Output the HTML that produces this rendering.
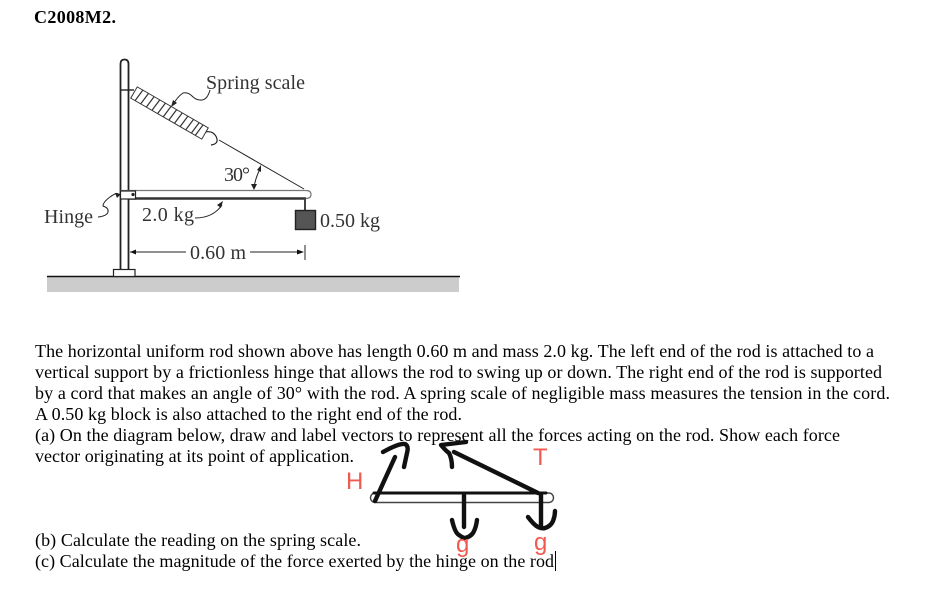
<!DOCTYPE html>
<html><head><meta charset="utf-8"><style>
html,body{margin:0;padding:0;background:#fff;width:952px;height:604px;overflow:hidden}
svg{display:block}
text{font-family:"Liberation Serif",serif;fill:#000}
.b{font-size:18px}
.d{font-size:20px;fill:#333}
.s{font-family:"Liberation Sans",sans-serif;fill:#f05a50;font-size:24px}
</style></head><body>
<svg width="952" height="604" viewBox="0 0 952 604" xmlns="http://www.w3.org/2000/svg">
<text x="34" y="23" style="font-size:18px;font-weight:bold" textLength="82">C2008M2.</text>
<!-- ground -->
<rect x="47" y="277" width="412" height="15" fill="#cccccc"/>
<line x1="47" y1="276.500" x2="460" y2="276.500" stroke="#111" stroke-width="1.5"/>
<!-- post -->
<path d="M120.500 270V64q0-4.500 4-4.500t4 4.500V270" fill="#fff" stroke="#222" stroke-width="1.8"/>
<rect x="113.500" y="269.500" width="21.500" height="7" fill="#fff" stroke="#222" stroke-width="1.2"/>
<!-- rod -->
<path d="M121 190.500H306q5 0 5 4t-5 4H121z" fill="#fff" stroke="#777" stroke-width="1.2"/>
<line x1="128" y1="198.500" x2="306" y2="198.500" stroke="#333" stroke-width="2.6"/>
<rect x="120.500" y="191" width="15" height="8" fill="#fff" stroke="#222" stroke-width="1.2"/>
<circle cx="133" cy="194.500" r="1.6" fill="#222"/>
<!-- cord -->
<line x1="121" y1="90" x2="134" y2="90" stroke="#222" stroke-width="1.4"/>
<path d="M205 132q5-1 8 1t4 6" fill="none" stroke="#222" stroke-width="1.2"/>
<path d="M217 139q1 5-6 6" fill="none" stroke="#222" stroke-width="1.2"/>
<line x1="219" y1="140" x2="304" y2="189" stroke="#222" stroke-width="1"/>
<!-- spring -->
<g transform="translate(134 92.500) rotate(30)">
<rect x="0" y="-6.500" width="82" height="13" fill="#fff" stroke="#333" stroke-width="1"/>
<path d="M6.500-6.500L5 6.500M13-6.500L11.500 6.500M19.500-6.500L18 6.500M26-6.500L24.500 6.500M32.500-6.500L31 6.500M39-6.500L37.500 6.500M45.500-6.500L44 6.500M52-6.500L50.500 6.500M58.500-6.500L57 6.500M65-6.500L63.500 6.500M71.500-6.500L70 6.500M76-6.500L74.500 6.500" stroke="#333" stroke-width="1.2"/>
</g>
<path d="M173 105q4-8 10-12q5-1 9 3t8 4q7 1 10-10" fill="none" stroke="#222" stroke-width="1"/>
<path d="M171 107l2-7 4 3z" fill="#222"/>
<text class="d" x="206" y="89" textLength="99">Spring scale</text>
<!-- 30 deg -->
<text class="d" x="224" y="181" textLength="26">30°</text>
<path d="M254 188q1-9 6-19" fill="none" stroke="#222" stroke-width="1"/>
<path d="M261 165l0 7-4-2z M254 190l-3-6 6 0z" fill="#222"/>
<!-- block -->
<line x1="305" y1="198" x2="305" y2="210" stroke="#444" stroke-width="2"/>
<rect x="295.500" y="210.500" width="20" height="19" fill="#555" stroke="#222" stroke-width="1.4"/>
<text class="d" x="320" y="227" textLength="60">0.50 kg</text>
<!-- labels -->
<text class="d" x="44" y="223" textLength="49">Hinge</text>
<path d="M98 217q9-1 10-5t-5-6q0-4 7-9t8-3" fill="none" stroke="#222" stroke-width="1"/>
<path d="M121 194l-6-1 2 5z" fill="#222"/>
<text class="d" x="142" y="221" textLength="52">2.0 kg</text>
<path d="M195 218q18 0 27-13" fill="none" stroke="#222" stroke-width="1"/>
<path d="M223 201l-2 7-4-3z" fill="#222"/>
<text class="d" x="190" y="259" textLength="56">0.60 m</text>
<line x1="130" y1="252" x2="186" y2="252" stroke="#222" stroke-width="1"/>
<path d="M130 252l6-2.500v5z" fill="#111"/>
<line x1="250" y1="252" x2="300" y2="252" stroke="#222" stroke-width="1"/>
<path d="M304 252l-7-2.500v5z" fill="#111"/>
<line x1="305" y1="245" x2="305" y2="260" stroke="#222" stroke-width="1"/>
<!-- paragraph -->
<text class="b" x="35" y="357" textLength="839">The horizontal uniform rod shown above has length 0.60 m and mass 2.0 kg. The left end of the rod is attached to a</text>
<text class="b" x="35" y="378" textLength="847">vertical support by a frictionless hinge that allows the rod to swing up or down. The right end of the rod is supported</text>
<text class="b" x="35" y="399" textLength="855">by a cord that makes an angle of 30° with the rod. A spring scale of negligible mass measures the tension in the cord.</text>
<text class="b" x="35" y="420" textLength="427">A 0.50 kg block is also attached to the right end of the rod.</text>
<text class="b" x="35" y="441" textLength="805">(a) On the diagram below, draw and label vectors to represent all the forces acting on the rod. Show each force</text>
<text class="b" x="35" y="462" textLength="319">vector originating at its point of application.</text>
<text class="b" x="35" y="546" textLength="326">(b) Calculate the reading on the spring scale.</text>
<text class="b" x="35" y="567" textLength="519">(c) Calculate the magnitude of the force exerted by the hinge on the rod</text>
<line x1="555.500" y1="551" x2="555.500" y2="571" stroke="#000" stroke-width="1"/>
<!-- hand-drawn -->
<rect x="370.500" y="493" width="183" height="9.500" rx="4.700" fill="none" stroke="#444" stroke-width="1.4"/>
<g fill="none" stroke="#111" stroke-width="4.400" stroke-linecap="round" stroke-linejoin="round">
<line x1="375" y1="501" x2="395" y2="457"/>
<path d="M383 452q16-9 22-8q4 2 2 9l-3 14"/>
<path d="M374 493H546" stroke-width="3"/>
<line x1="538" y1="493" x2="454" y2="452"/>
<path d="M466 442l-25 3q5 6 8 8q3 6 3 14"/>
<line x1="464" y1="495" x2="464" y2="527"/>
<path d="M452 520q3 13 7 15q4 3 6 3q5-1 8-5q3-5 4-13"/>
<line x1="541" y1="495" x2="541" y2="528"/>
<path d="M528 517q6 8 10 10q4 2 7 1q6-2 8-7q2-5 2-10"/>
</g>
<text class="s" x="533" y="465" textLength="15">T</text>
<text class="s" x="346" y="489" textLength="16">H</text>
<text class="s" x="456" y="552" textLength="13">g</text>
<text class="s" x="534" y="550" textLength="14">g</text>
</svg>
</body></html>
